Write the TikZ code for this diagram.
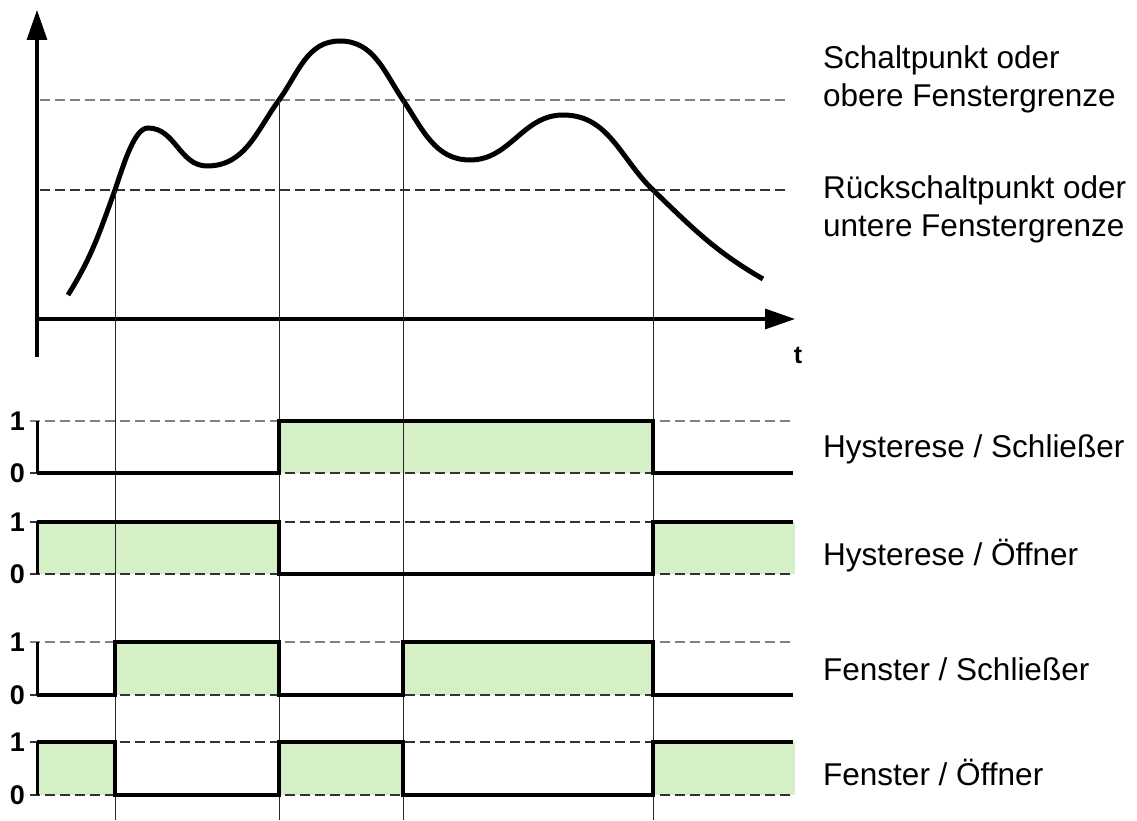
\documentclass[tikz,border=0pt]{standalone}
\usepackage{fontspec}
\setmainfont{Liberation Sans}
\usetikzlibrary{arrows.meta}
\definecolor{onfill}{RGB}{213,239,199}
\tikzset{
    curve/.style = {line width=5pt, black},
    axis/.style = {line width=3.2pt, black, -{Triangle[length=30pt,width=20pt]}},
    sig/.style = {line width=4.5pt, black, line join=miter},
    tickline/.style = {line width=3pt, black},
    guide/.style = {line width=1pt, black!85},
    lvlg/.style = {line width=1.5pt, black!50, dash pattern=on 10pt off 5pt}, % upper level
    lvlk/.style = {line width=1.2pt, black!80, dash pattern=on 10pt off 5pt}, % lower level
    onbox/.style = {fill=onfill, draw=none},
    lbl/.style = {inner sep=0pt, anchor=base west, font=\fontsize{31.5}{38}\selectfont},
    digit/.style = {inner sep=0pt, anchor=east, font=\fontsize{27}{30}\selectfont\bfseries},
}

\begin{document}
\begin{tikzpicture}[x=1pt, y=1pt]
  \useasboundingbox (0,0) rectangle (1137,820);
  \coordinate (bot) at (0,0);
  % switching points on the curve
  \coordinate (c1) at (115,630);
  \coordinate (c2) at (279,720);
  \coordinate (c3) at (403,720);
  \coordinate (c4) at (653,630);

  % thresholds
  \draw[lvlg] (40,720) -- (790,720);
  \draw[lvlk] (40,630) -- (790,630);

  % axes
  \draw[axis] (37,463) -- (37,810);
  \draw[axis] (37,501) -- (795,501);
  \node[font=\fontsize{25}{30}\selectfont\bfseries, inner sep=0pt] (t) at (798,465) {t};

  % signal
  \draw[curve] (68,525) to[out=58,in=250] (c1)
    .. controls (125,660) and (135,692) .. (148,692)
    to[out=0,in=180] (207,654)
    to[out=0,in=234] (c2) to[out=54,in=180] (340,779)
    to[out=0,in=124] (c3) to[out=-56,in=180] (470,660)
    to[out=0,in=180] (563,705) to[out=0,in=136] (c4)
    to[out=-44,in=150] (763,541);

  % on states
  \fill[onbox] (279,347) rectangle (653,399);
  \fill[onbox] (37,246) rectangle (279,298);
  \fill[onbox] (653,246) rectangle (795,298);
  \fill[onbox] (115,125) rectangle (279,178);
  \fill[onbox] (403,125) rectangle (653,178);
  \fill[onbox] (37,25) rectangle (115,78);
  \fill[onbox] (279,25) rectangle (403,78);
  \fill[onbox] (653,25) rectangle (795,78);

  \foreach \hi/\lo/\hs in {399/347/lvlg, 298/246/lvlk, 178/125/lvlg, 78/25/lvlk} {
    \draw[\hs] (30,\hi) -- (790,\hi);
    \draw[lvlk] (30,\lo) -- (790,\lo);
    \draw[tickline] (37,\lo) -- (37,\hi);
    \node[digit] (one\hi) at (25,\hi) {1};
    \node[digit] (zero\lo) at (25,\lo) {0};
  }

  \draw[guide] (c1) -- (c1 |- bot);
  \draw[guide] (c2) -- (c2 |- bot);
  \draw[guide] (c3) -- (c3 |- bot);
  \draw[guide] (c4) -- (c4 |- bot);

  \draw[sig] (37,347) -- (279,347) -- (279,399) -- (653,399) -- (653,347) -- (793,347);
  \draw[sig] (37,298) -- (279,298) -- (279,246) -- (653,246) -- (653,298) -- (793,298);
  \draw[sig] (37,125) -- (115,125) -- (115,178) -- (279,178) -- (279,125)
    -- (403,125) -- (403,178) -- (653,178) -- (653,125) -- (793,125);
  \draw[sig] (37,78) -- (115,78) -- (115,25) -- (279,25) -- (279,78)
    -- (403,78) -- (403,25) -- (653,25) -- (653,78) -- (793,78);

  \node[lbl] (sp) at (823,751) {Schaltpunkt oder};
  \node[lbl] (ofg) at (823,713) {obere Fenstergrenze};
  \node[lbl] (rsp) at (823,621) {Rückschaltpunkt oder};
  \node[lbl] (ufg) at (823,583) {untere Fenstergrenze};
  \node[lbl] (hs) at (823,362) {Hysterese / Schließer};
  \node[lbl] (ho) at (823,255) {Hysterese / Öffner};
  \node[lbl] (fs) at (823,140) {Fenster / Schließer};
  \node[lbl] (fo) at (823,35) {Fenster / Öffner};
\end{tikzpicture}
\end{document}
